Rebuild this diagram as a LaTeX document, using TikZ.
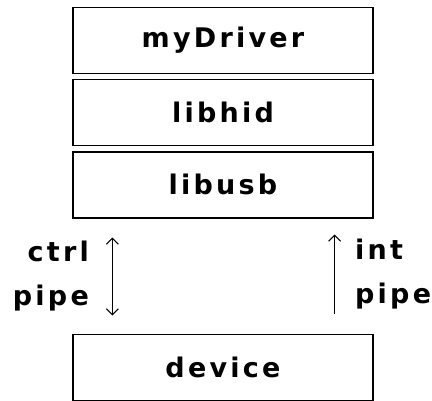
\documentclass[tikz,border=0pt]{standalone}
\usepackage{fontspec}
\newfontfamily\chifont[LetterSpace=12]{DejaVu Sans Bold}
\usetikzlibrary{positioning, calc, arrows.meta}

\tikzset{
  layer/.style={draw, line width=1.2pt, minimum width=300pt, minimum height=66pt, font=\chifont\fontsize{27}{30}\selectfont},
  pipelabel/.style={font=\chifont\fontsize{27}{44}\selectfont},
  pipearrow/.style={line width=1pt, >={Straight Barb[length=6pt, width=12pt]}}
}

\begin{document}
\begin{tikzpicture}[x=1pt, y=1pt]
\useasboundingbox (0,0) rectangle (432,-400);

% Stack
\node[layer] (driver) at (223,-40.5) {myDriver};
\node[layer, below=5pt of driver] (libhid) {libhid};
\node[layer, below=5pt of libhid] (libusb) {libusb};
\node[layer, below=115pt of libusb] (device) {device};

% Pipes
\coordinate (ctrltop) at ([xshift=40pt, yshift=-19pt]libusb.south west);
\coordinate (ctrlbot) at ([xshift=40pt, yshift=18pt]device.north west);
\coordinate (inttop) at ([xshift=-39pt, yshift=-16pt]libusb.south east);
\coordinate (intbot) at ([xshift=-39pt, yshift=20pt]device.north east);

\draw[pipearrow, <->] (ctrltop) -- (ctrlbot);
\draw[pipearrow, ->] (intbot) -- (inttop);

\node[pipelabel, align=right, anchor=east] (ctrllabel) at ($(ctrltop)!0.5!(ctrlbot)+(-20,0)$) {ctrl\\pipe};
\node[pipelabel, align=left, anchor=west] (intlabel) at ($(inttop)!0.5!(intbot)+(17,0)$) {int\\pipe};
\end{tikzpicture}
\end{document}
